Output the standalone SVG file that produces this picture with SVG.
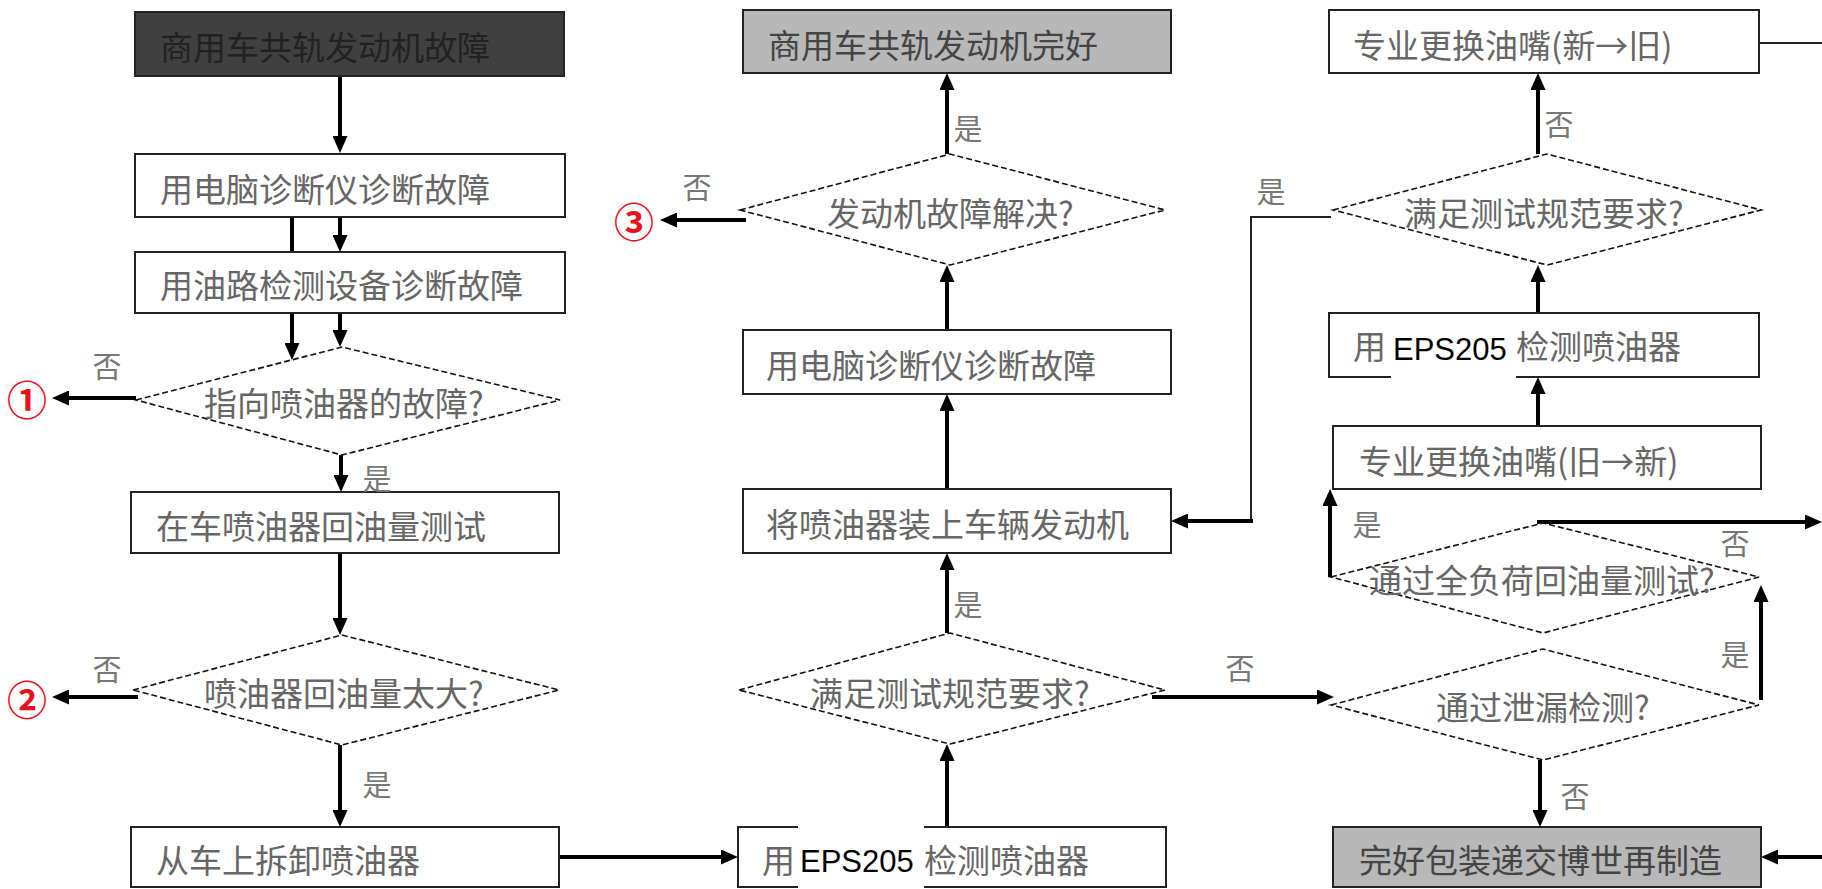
<svg xmlns="http://www.w3.org/2000/svg" width="1822" height="889" viewBox="0 0 1822 889">
<defs>
<style>
.box{fill:#fff;stroke:#222;stroke-width:2}
.dark{fill:#404040}
.gray{fill:#b8b8b8}
.dia{fill:#fff;stroke:#111;stroke-width:1.6;stroke-dasharray:6 3}
.t{font-family:"Noto Sans CJK SC","Noto Sans",sans-serif;font-size:33px;fill:#666;dominant-baseline:central}
.lb{font-family:"Noto Sans CJK SC","Noto Sans",sans-serif;font-size:29px;fill:#777;text-anchor:middle;dominant-baseline:central}
.num{font-family:"Noto Sans CJK SC","Noto Sans",sans-serif;font-size:40px;fill:#e8101c;font-weight:bold;text-anchor:middle;dominant-baseline:central}
.eps{font-family:"Liberation Sans",Arial,sans-serif;font-size:31px;fill:#000}
.c{fill:none;stroke:#000;stroke-width:4}
.thin{fill:none;stroke:#222;stroke-width:2}
</style>
<marker id="ah" viewBox="0 0 17 15" refX="1" refY="7.5" markerWidth="17" markerHeight="15" markerUnits="userSpaceOnUse" orient="auto">
<path d="M0,0 L17,7.5 L0,15 z" fill="#000"/>
</marker>
</defs>
<rect width="1822" height="889" fill="#fff"/>

<g id="connectors">
<path class="c" d="M340,76 V137" marker-end="url(#ah)"/>
<path class="c" d="M340,217 V236" marker-end="url(#ah)"/>
<path class="c" d="M292,217 V344" marker-end="url(#ah)"/>
<path class="c" d="M340,313 V331" marker-end="url(#ah)"/>
<path class="c" d="M136,398 H68" marker-end="url(#ah)"/>
<path class="c" d="M341,455 V476" marker-end="url(#ah)"/>
<path class="c" d="M340,553 V619" marker-end="url(#ah)"/>
<path class="c" d="M138,697 H68" marker-end="url(#ah)"/>
<path class="c" d="M340,745 V811" marker-end="url(#ah)"/>
<path class="c" d="M559,857 H722" marker-end="url(#ah)"/>
<path class="c" d="M947,827 V760" marker-end="url(#ah)"/>
<path class="c" d="M947,633 V569" marker-end="url(#ah)"/>
<path class="c" d="M947,489 V410" marker-end="url(#ah)"/>
<path class="c" d="M947,330 V281" marker-end="url(#ah)"/>
<path class="c" d="M947,154 V89" marker-end="url(#ah)"/>
<path class="c" d="M746,220 H676" marker-end="url(#ah)"/>
<path class="c" d="M1152,697 H1318" marker-end="url(#ah)"/>
<path class="c" d="M1540,760 V811" marker-end="url(#ah)"/>
<path class="c" d="M1761,700 V601" marker-end="url(#ah)"/>
<path class="c" d="M1537,522 H1806" marker-end="url(#ah)"/>
<path class="c" d="M1330,577 V505" marker-end="url(#ah)"/>
<path class="c" d="M1538,426 V393" marker-end="url(#ah)"/>
<path class="c" d="M1538,313 V281" marker-end="url(#ah)"/>
<path class="c" d="M1538,154 V89" marker-end="url(#ah)"/>
<path class="thin" d="M1331,217 H1251 V521"/>
<path class="c" d="M1253,521 H1187" marker-end="url(#ah)"/>
<path class="thin" d="M1759,43 H1822"/>
<path class="c" d="M1822,857 H1777" marker-end="url(#ah)"/>
</g>

<g id="n1"><rect class="box dark" x="135" y="12" width="429" height="64"/><text class="t" x="160" y="46" style="fill:#222">商用车共轨发动机故障</text></g>
<g id="n2"><rect class="box" x="135" y="154" width="430" height="63"/><text class="t" x="160" y="188">用电脑诊断仪诊断故障</text></g>
<g id="n3"><rect class="box" x="135" y="252" width="430" height="61"/><text class="t" x="160" y="284">用油路检测设备诊断故障</text></g>
<g id="d1"><polygon class="dia" points="136,400 342,347 560,400 342,455"/><text class="t" x="204" y="402">指向喷油器的故障?</text></g>
<g id="n4"><rect class="box" x="131" y="492" width="428" height="61"/><text class="t" x="156" y="525">在车喷油器回油量测试</text></g>
<g id="d2"><polygon class="dia" points="133,690 342,635 559,690 342,745"/><text class="t" x="204" y="692">喷油器回油量太大?</text></g>
<g id="n5"><rect class="box" x="131" y="827" width="428" height="60"/><text class="t" x="156" y="859">从车上拆卸喷油器</text></g>

<g id="n6"><rect class="box gray" x="743" y="10" width="428" height="63"/><text class="t" x="768" y="44" style="fill:#444">商用车共轨发动机完好</text></g>
<g id="d3"><polygon class="dia" points="740,210 950,154 1165,210 950,265"/><text class="t" x="827" y="212">发动机故障解决?</text></g>
<g id="n7"><rect class="box" x="743" y="330" width="428" height="64"/><text class="t" x="766" y="364">用电脑诊断仪诊断故障</text></g>
<g id="n8"><rect class="box" x="743" y="489" width="428" height="64"/><text class="t" x="766" y="523">将喷油器装上车辆发动机</text></g>
<g id="d4"><polygon class="dia" points="739,690 950,633 1165,690 950,744"/><text class="t" x="810" y="692">满足测试规范要求?</text></g>
<g id="n9"><rect class="box" x="738" y="827" width="428" height="60"/><text class="t" x="762" y="859">用</text><text class="t" x="924" y="859">检测喷油器</text><rect x="798" y="825" width="126" height="64" fill="#fff"/><text class="eps" x="800" y="872">EPS205</text></g>

<g id="n10"><rect class="box" x="1329" y="10" width="430" height="63"/><text class="t" x="1353" y="44">专业更换油嘴(新→旧)</text></g>
<g id="d5"><polygon class="dia" points="1333,210 1547,154 1761,210 1547,265"/><text class="t" x="1404" y="212">满足测试规范要求?</text></g>
<g id="n11"><rect class="box" x="1329" y="313" width="430" height="64"/><text class="t" x="1353" y="345">用</text><text class="t" x="1516" y="345">检测喷油器</text><rect x="1391" y="318" width="125" height="62" fill="#fff"/><text class="eps" x="1393" y="360">EPS205</text></g>
<g id="n12"><rect class="box" x="1333" y="426" width="428" height="63"/><text class="t" x="1359" y="460">专业更换油嘴(旧→新)</text></g>
<g id="d6"><polygon class="dia" points="1331,577 1543,523 1759,577 1543,633"/><text class="t" x="1369" y="579">通过全负荷回油量测试?</text></g>
<g id="d7"><polygon class="dia" points="1331,705 1543,649 1759,705 1543,760"/><text class="t" x="1436" y="706">通过泄漏检测?</text></g>
<g id="n13"><rect class="box gray" x="1333" y="827" width="428" height="60"/><text class="t" x="1359" y="859" style="fill:#444">完好包装递交博世再制造</text></g>

<g id="labels">
<text class="lb" x="107" y="365">否</text><text class="num" x="27" y="398">①</text>
<text class="lb" x="377" y="477">是</text>
<text class="lb" x="107" y="668">否</text><text class="num" x="27" y="698">②</text>
<text class="lb" x="377" y="783">是</text>
<text class="lb" x="968" y="127">是</text>
<text class="lb" x="697" y="186">否</text><text class="num" x="634" y="220">③</text>
<text class="lb" x="968" y="603">是</text>
<text class="lb" x="1240" y="667">否</text>
<text class="lb" x="1559" y="123">否</text>
<text class="lb" x="1271" y="190">是</text>
<text class="lb" x="1367" y="523">是</text>
<text class="lb" x="1735" y="542">否</text>
<text class="lb" x="1735" y="653">是</text>
<text class="lb" x="1575" y="795">否</text>
</g>
</svg>
